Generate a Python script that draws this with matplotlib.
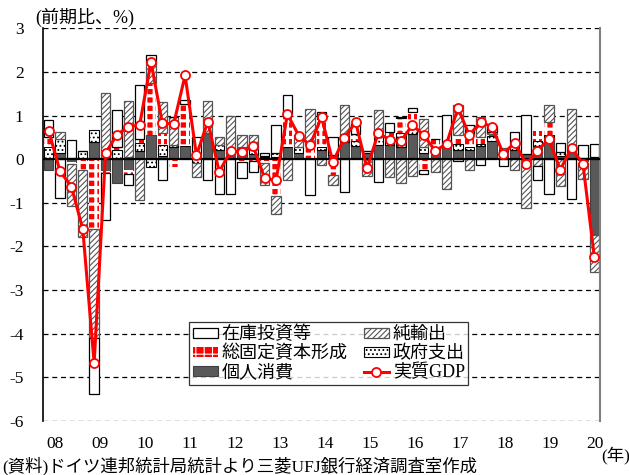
import numpy as np
import matplotlib
matplotlib.use('Agg')
import matplotlib.pyplot as plt

plt.rcParams['font.family'] = ['Liberation Serif', 'Noto Sans CJK JP']
plt.rcParams['axes.unicode_minus'] = False
plt.rcParams['hatch.linewidth'] = 0.8

# quarters 2008Q1 .. 2020Q1
quarters = [f"{y}Q{q}" for y in range(2008, 2021) for q in range(1, 5)][:49]
year_labels = ['08', '09', '10', '11', '12', '13', '14', '15', '16', '17', '18', '19', '20']

# contributions to real GDP growth (% points, q/q)
consumption = [-0.25, 0.13, -0.06, -0.03, 0.40, -0.28, -0.55, -0.25, 0.18, 0.55,
               0.08, 0.28, 0.30, 0.08, 0.59, 0.20, 0.08, 0.28, 0.12, 0.05,
               0.05, 0.27, 0.15, 0.02, 0.20, 0.09, 0.40, 0.31, 0.15, 0.32,
               0.32, 0.28, 0.58, 0.15, 0.22, 0.32, 0.22, 0.20, 0.30, 0.42,
               0.18, 0.20, 0.12, 0.30, 0.45, 0.08, 0.22, -0.05, -1.73]
government = [0.28, 0.34, 0.03, 0.18, 0.27, 0.00, 0.20, 0.05, 0.20, -0.18,
              0.24, 0.04, 0.00, -0.08, 0.00, 0.12, 0.00, 0.00, 0.12, 0.03,
              0.09, 0.00, 0.12, 0.00, 0.08, 0.00, 0.15, 0.10, 0.03, 0.18,
              0.15, 0.31, 0.12, 0.13, 0.05, 0.00, 0.12, 0.08, 0.05, 0.10,
              0.04, 0.10, 0.00, 0.12, 0.10, 0.08, 0.05, 0.03, 0.05]
fixed_invest = [0.23, 0.00, -0.05, -0.22, -1.60, -0.05, 0.08, -0.10, 0.08, 1.19,
                0.28, -0.17, 0.97, 0.00, 0.00, 0.00, 0.00, -0.06, -0.04, -0.10,
                -0.85, 0.76, 0.00, 0.30, 0.65, -0.37, 0.00, 0.17, 0.00, 0.00,
                0.15, 0.35, 0.38, -0.25, 0.20, 0.00, 0.22, 0.30, 0.15, 0.05,
                0.04, 0.05, 0.00, 0.23, 0.30, 0.00, 0.00, -0.03, 0.00]
net_exports = [0.00, 0.16, -0.97, -1.54, -2.50, 1.52, 0.00, 1.28, -0.94, 0.50,
               0.71, 0.65, 0.00, -0.33, 0.74, 0.18, 0.90, 0.27, 0.31, -0.50,
               -0.42, -0.48, 0.28, 0.82, -0.14, -0.23, 0.68, 0.00, -0.38, 0.62,
               -0.40, -0.55, -0.38, 0.65, -0.30, -0.68, 0.68, -0.25, 0.47, 0.05,
               0.00, -0.24, -1.13, -0.15, 0.38, -0.62, 0.88, -0.38, -0.86]
inventories = [0.38, -0.90, 0.40, 0.00, -1.29, -1.07, 0.84, -0.25, 1.25, 0.15,
               -0.48, 0.00, 0.08, 0.42, -0.48, -0.79, -0.80, -0.37, -0.25, 0.07,
               0.64, 0.44, 0.00, -0.83, 0.16, 0.42, -0.75, 0.22, 0.00, -0.52,
               0.20, 0.03, 0.10, -0.10, 0.00, 0.70, -0.05, 0.20, -0.13, 0.15,
               -0.15, 0.27, 0.90, -0.33, -0.79, 0.22, -0.92, 0.30, 0.30]
real_gdp = [0.65, -0.28, -0.63, -1.61, -4.68, 0.13, 0.56, 0.74, 0.78, 2.23,
            0.82, 0.81, 1.92, 0.09, 0.86, -0.29, 0.18, 0.17, 0.29, -0.44,
            -0.49, 1.03, 0.54, 0.32, 0.97, -0.07, 0.48, 0.85, -0.21, 0.60,
            0.44, 0.42, 0.78, 0.55, 0.19, 0.35, 1.17, 0.55, 0.85, 0.74,
            0.12, 0.38, -0.11, 0.19, 0.46, -0.24, 0.25, -0.11, -2.24]

fig = plt.figure(figsize=(6.29, 4.75), dpi=100)
ax = fig.add_axes([43 / 629, 1 - 420.7 / 475, 557 / 629, 392.4 / 475])

x = np.arange(len(quarters))
width = 0.82

# stacking order (Excel style): consumption, government, GFCF, net exports, inventories
series = [
    (consumption, '個人消費', dict(facecolor='#595959', edgecolor='#404040', linewidth=0.8)),
    (government, '政府支出', dict(facecolor='white', edgecolor='black', hatch='....', linewidth=0.8)),
    (fixed_invest, '総固定資本形成', dict(facecolor='#ff0000', edgecolor='white', hatch='++', linewidth=0)),
    (net_exports, '純輸出', dict(facecolor='white', edgecolor='#555555', hatch='//////', linewidth=0.9)),
    (inventories, '在庫投資等', dict(facecolor='white', edgecolor='black', linewidth=0.9)),
]

pos_base = np.zeros(len(x))
neg_base = np.zeros(len(x))
handles = {}
for vals, name, style in series:
    v = np.array(vals)
    bottom = np.where(v >= 0, pos_base, neg_base)
    bars = ax.bar(x, v, width, bottom=bottom, label=name, zorder=2, **style)
    if name == '総固定資本形成':
        for p in bars:
            if hasattr(p, 'set_hatch_linewidth'):
                p.set_hatch_linewidth(2.2)
    handles[name] = bars
    pos_base += np.clip(v, 0, None)
    neg_base += np.clip(v, None, 0)

ax.axhline(0, color='black', linewidth=1.6, zorder=3)

line, = ax.plot(x, real_gdp, color='#ff0000', linewidth=2.2, marker='o', markersize=6.5,
                markerfacecolor='white', markeredgecolor='#ff0000', markeredgewidth=1.3,
                label='実質GDP', zorder=4)
handles['実質GDP'] = line

ax.set_xlim(-0.5, 48.5)
ax.set_ylim(-6, 3)
ax.set_yticks(range(-6, 4))
ax.set_yticklabels([str(v) for v in range(-6, 4)], fontsize=12.5)
for yv in range(-6, 4):
    if yv != 0:
        ax.axhline(yv, color='black', linewidth=0.9, linestyle=(0, (4, 3)), zorder=1)

ax.set_xticks(np.linspace(0.55, 48.05, 13))
ax.set_xticklabels(year_labels, fontsize=12.5)
ax.tick_params(axis='both', length=0)
ax.tick_params(axis='y', pad=14)
ax.tick_params(axis='x', pad=11)

for side in ['top', 'bottom']:
    ax.spines[side].set_visible(False)
ax.spines['left'].set_color('black')
ax.spines['left'].set_linewidth(1.2)
ax.spines['right'].set_color('#808080')
ax.spines['right'].set_linewidth(1.5)

order = ['在庫投資等', '総固定資本形成', '個人消費', '純輸出', '政府支出', '実質GDP']
leg = ax.legend([handles[k] for k in order], order, ncol=2, loc='upper left',
                bbox_to_anchor=(189 / 629, 1 - 322 / 475), bbox_transform=fig.transFigure,
                fontsize=13, frameon=True, fancybox=False, edgecolor='black',
                borderpad=0.2, labelspacing=0.1, handlelength=1.4, handleheight=0.5,
                handletextpad=0.2, columnspacing=0.9, borderaxespad=0)
leg.get_frame().set_linewidth(0.9)
leg.set_zorder(5)

fig.text(35 / 629, 1 - 17 / 475, '(前期比、%)', fontsize=13, va='center', ha='left')
fig.text(601 / 629, 1 - 455 / 475, '(年)', fontsize=12.5, va='center', ha='left')
fig.text(2 / 629, 1 - 466 / 475, '(資料)ドイツ連邦統計局統計より三菱UFJ銀行経済調査室作成',
         fontsize=12.5, va='center', ha='left')

fig.savefig('out.png', dpi=100)
